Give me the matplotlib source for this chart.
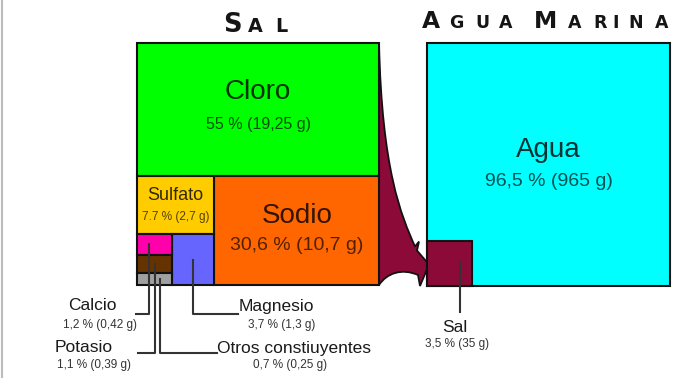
import numpy as np
import matplotlib
matplotlib.use('Agg')
import matplotlib.pyplot as plt
from matplotlib.patches import Rectangle, PathPatch
from matplotlib.path import Path

plt.rcParams['font.family'] = ['Liberation Sans', 'DejaVu Sans']

# datos: composición de la sal y del agua marina
partes = ['Cloro', 'Sodio', 'Sulfato', 'Magnesio', 'Calcio', 'Potasio', 'Otros constiuyentes']
porcentaje = [55, 30.6, 7.7, 3.7, 1.2, 1.1, 0.7]
gramos = [19.25, 10.7, 2.7, 1.3, 0.42, 0.39, 0.25]
etiquetas_pct = ['55 % (19,25 g)', '30,6 % (10,7 g)', '7.7 % (2,7 g)', '3,7 % (1,3 g)',
                 '1,2 % (0,42 g)', '1,1 % (0,39 g)', '0,7 % (0,25 g)']
colores = ['#00ff00', '#ff6600', '#ffcc00', '#6666ff', '#ff00aa', '#663300', '#a0a0a0']

agua_partes = ['Agua', 'Sal']
agua_pct = [96.5, 3.5]
agua_etiquetas = ['96,5 % (965 g)', '3,5 % (35 g)']
agua_colores = ['#00ffff', '#8c0a38']

# layout (pixeles, y hacia abajo)
X0, TOP, LADO = 137, 43, 242
AX0, ALADO = 427, 243

fig = plt.figure(figsize=(6.74, 3.78), dpi=100)
ax = fig.add_axes([0, 0, 1, 1])
ax.set_xlim(0, 674)
ax.set_ylim(378, 0)
ax.axis('off')

p = dict(zip(partes, porcentaje))
total = sum(porcentaje)
h_cloro = LADO * p['Cloro'] / total
h_abajo = LADO - h_cloro
w_sodio = LADO * p['Sodio'] / (total - p['Cloro'])
w_izq = LADO - w_sodio
resto_izq = p['Sulfato'] + p['Magnesio'] + p['Calcio'] + p['Potasio'] + p['Otros constiuyentes']
h_sulf = h_abajo * p['Sulfato'] / resto_izq
h_resto = h_abajo - h_sulf
w_mag = w_izq * p['Magnesio'] / (resto_izq - p['Sulfato'])
w_peq = w_izq - w_mag
peq = p['Calcio'] + p['Potasio'] + p['Otros constiuyentes']

y_ab = TOP + h_cloro
y_r = y_ab + h_sulf
rects = {
    'Cloro': (X0, TOP, LADO, h_cloro),
    'Sodio': (X0 + w_izq, y_ab, w_sodio, h_abajo),
    'Sulfato': (X0, y_ab, w_izq, h_sulf),
    'Magnesio': (X0 + w_peq, y_r, w_mag, h_resto),
}
yy = y_r
for n in ['Calcio', 'Potasio', 'Otros constiuyentes']:
    h = h_resto * p[n] / peq
    rects[n] = (X0, yy, w_peq, h)
    yy += h

# flecha (entre los dos cuadros)
lado_sal = ALADO * np.sqrt(agua_pct[1] / 100)
xr = X0 + LADO
yb = TOP + LADO
ys = TOP + ALADO - lado_sal
verts = [(xr, TOP), (xr + 3, 170), (xr + 22, 215), (AX0 - 12, ys + 6),
         (AX0 - 8, ys + 1), (AX0 - 10, ys + 10), (AX0 + 2, ys + 24), (AX0 - 7, yb + 1),
         (AX0 - 9, yb - 10), (AX0 - 25, yb - 17), (xr + 8, yb - 12), (xr, yb),
         (xr, TOP)]
codes = [Path.MOVETO, Path.CURVE4, Path.CURVE4, Path.CURVE4,
         Path.LINETO, Path.LINETO, Path.LINETO, Path.LINETO,
         Path.LINETO, Path.CURVE4, Path.CURVE4, Path.CURVE4,
         Path.CLOSEPOLY]
ax.add_patch(PathPatch(Path(verts, codes), facecolor=agua_colores[1], edgecolor='#111', lw=1.3, zorder=1))

for n, c in zip(partes, colores):
    x, y, w, h = rects[n]
    ax.add_patch(Rectangle((x, y), w, h, facecolor=c, edgecolor='#111', lw=1.5, zorder=2))

ax.add_patch(Rectangle((AX0, TOP), ALADO, ALADO, facecolor=agua_colores[0], edgecolor='#111', lw=1.5, zorder=2))
ax.add_patch(Rectangle((AX0, TOP + ALADO - lado_sal), lado_sal, lado_sal,
                       facecolor=agua_colores[1], edgecolor='#111', lw=1.5, zorder=3))

# textos dentro de los cuadros
def centro(n):
    x, y, w, h = rects[n]
    return x + w / 2, y + h / 2

cx, cy = centro('Cloro')
ax.text(cx, 92, 'Cloro', fontsize=20, ha='center', va='center', color='k', alpha=0.8, zorder=5)
ax.text(cx, 125, etiquetas_pct[0], fontsize=11.5, ha='center', va='center', color='k', alpha=0.68, zorder=5)
cx, cy = centro('Sodio')
ax.text(cx, 216, 'Sodio', fontsize=20, ha='center', va='center', color='k', alpha=0.8, zorder=5)
ax.text(cx, 246, etiquetas_pct[1], fontsize=14, ha='center', va='center', color='k', alpha=0.68, zorder=5)
cx, cy = centro('Sulfato')
ax.text(cx, 196, 'Sulfato', fontsize=13, ha='center', va='center', color='k', alpha=0.8, zorder=5)
ax.text(cx, 217, etiquetas_pct[2], fontsize=8.5, ha='center', va='center', color='k', alpha=0.68, zorder=5)
ax.text(AX0 + ALADO / 2, 150, agua_partes[0], fontsize=20, ha='center', va='center', color='k', alpha=0.8, zorder=5)
ax.text(AX0 + ALADO / 2, 182, agua_etiquetas[0], fontsize=14, ha='center', va='center', color='k', alpha=0.68, zorder=5)

# lineas guia y etiquetas externas
lc = dict(color='#333', lw=1.5, zorder=4)
cx, cy = centro('Calcio')
ax.plot([149, 149, 136], [cy, 314, 314], **lc)
cx, cy = centro('Potasio')
ax.plot([155, 155, 138], [cy, 353, 353], **lc)
cx, cy = centro('Otros constiuyentes')
ax.plot([160, 160, 217], [cy, 353, 353], **lc)
cx, cy = centro('Magnesio')
ax.plot([cx, cx, 238], [cy, 314, 314], **lc)
sx = AX0 + lado_sal / 2 + 10
ax.plot([sx, sx], [TOP + ALADO - lado_sal / 2, 312], **lc)

ext = [('Calcio', 92, 306, 100, 325), ('Potasio', 84, 348, 94, 365),
       ('Magnesio', 276, 306, 282, 325), ('Otros constiuyentes', 294, 348, 290, 365)]
for n, x1, y1, x2, y2 in ext:
    ax.text(x1, y1, n, fontsize=12.5, ha='center', va='center', color='#1a1a1a')
    ax.text(x2, y2, etiquetas_pct[partes.index(n)], fontsize=8.5, ha='center', va='center', color='#333')
ax.text(455, 327, agua_partes[1], fontsize=12.5, ha='center', va='center', color='#1a1a1a')
ax.text(457, 344, agua_etiquetas[1], fontsize=8.5, ha='center', va='center', color='#333')

# titulos en versalitas
def versalitas(letras, xs, base, grande, chica):
    for (ch, big), x in zip(letras, xs):
        ax.text(x, base, ch, fontsize=grande if big else chica, ha='center', va='baseline',
                family='DejaVu Sans', fontweight='bold', color='#151515')

versalitas([('S', 1), ('A', 0), ('L', 0)], [232, 255, 281], 32, 18.5, 13.8)
versalitas([('A', 1), ('G', 0), ('U', 0), ('A', 0), ('M', 1), ('A', 0), ('R', 0), ('I', 0), ('N', 0), ('A', 0)],
           [431, 456, 482, 506, 546, 575, 600, 616, 636, 662], 28, 16.8, 12.5)

ax.plot([1.5, 1.5], [0, 378], color='#bbb', lw=1.5)

fig.savefig('out.png', dpi=100)
